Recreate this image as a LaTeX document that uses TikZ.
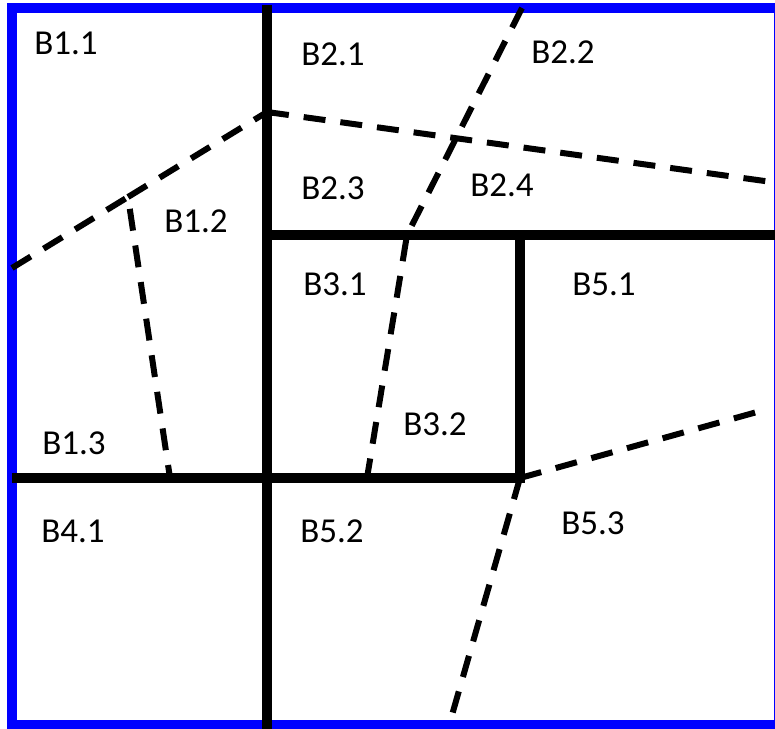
\documentclass[tikz,border=0pt]{standalone}
\usepackage{fontspec}
\setmainfont{Carlito}
\begin{document}
\begin{tikzpicture}[x=1pt,y=-1pt,
  wall/.style={line width=10pt,black},
  frameline/.style={line width=10pt,blue},
  cut/.style={line width=6pt,black,dash pattern=on 22pt off 15pt},
  lbl/.style={font=\fontsize{35}{42}\selectfont, inner sep=0pt}]
\useasboundingbox (0,0) rectangle (775,728);
\clip (0,0) rectangle (775,728);
% corner points
\coordinate (fTL) at (12,8);
\coordinate (fBR) at (779,725);
\coordinate (vTop) at (267,5);
\coordinate (vBot) at (267,735);
\coordinate (hL) at (12,478);
\coordinate (hC) at (520,478);
\coordinate (hCt) at (520,235);
\coordinate (hUL) at (267,235);
\coordinate (hUR) at (780,235);
\coordinate (dA1) at (12,268);
\coordinate (dA2) at (128,197);
\coordinate (dA3) at (170,478);
\coordinate (dB) at (267,112);
\coordinate (dBr) at (779,183);
\coordinate (dC1) at (522,8);
\coordinate (dC2) at (407,235);
\coordinate (dC3) at (367,478);
\coordinate (dE) at (757,412);
\coordinate (dF) at (452,715);
% frame
\draw[frameline] (fTL) rectangle (fBR);
% walls
\draw[wall] (vTop) -- (vBot);
\draw[wall] (hL) -- (hC) -- (hCt);
\draw[wall] (hUL) -- (hUR);
% cuts
\draw[cut] (dA1) -- (dA2) -- (dA3);
\draw[cut] (dA2) -- (dB);
\draw[cut] (dB) -- (dBr);
\draw[cut] (dC1) -- (dC2) -- (dC3);
\draw[cut] (hC) -- (dE);
\draw[cut] (hC) -- (dF);
% labels
\node[lbl] (l11) at (66,43) {B1.1};
\node[lbl] (l12) at (196,221) {B1.2};
\node[lbl] (l13) at (74,443) {B1.3};
\node[lbl] (l21) at (333,54) {B2.1};
\node[lbl] (l22) at (563,52) {B2.2};
\node[lbl] (l23) at (333,188) {B2.3};
\node[lbl] (l24) at (502,185) {B2.4};
\node[lbl] (l31) at (335,284) {B3.1};
\node[lbl] (l32) at (435,424) {B3.2};
\node[lbl] (l41) at (73,531) {B4.1};
\node[lbl] (l51) at (604,284) {B5.1};
\node[lbl] (l52) at (332,531) {B5.2};
\node[lbl] (l53) at (593,523) {B5.3};
\end{tikzpicture}
\end{document}
